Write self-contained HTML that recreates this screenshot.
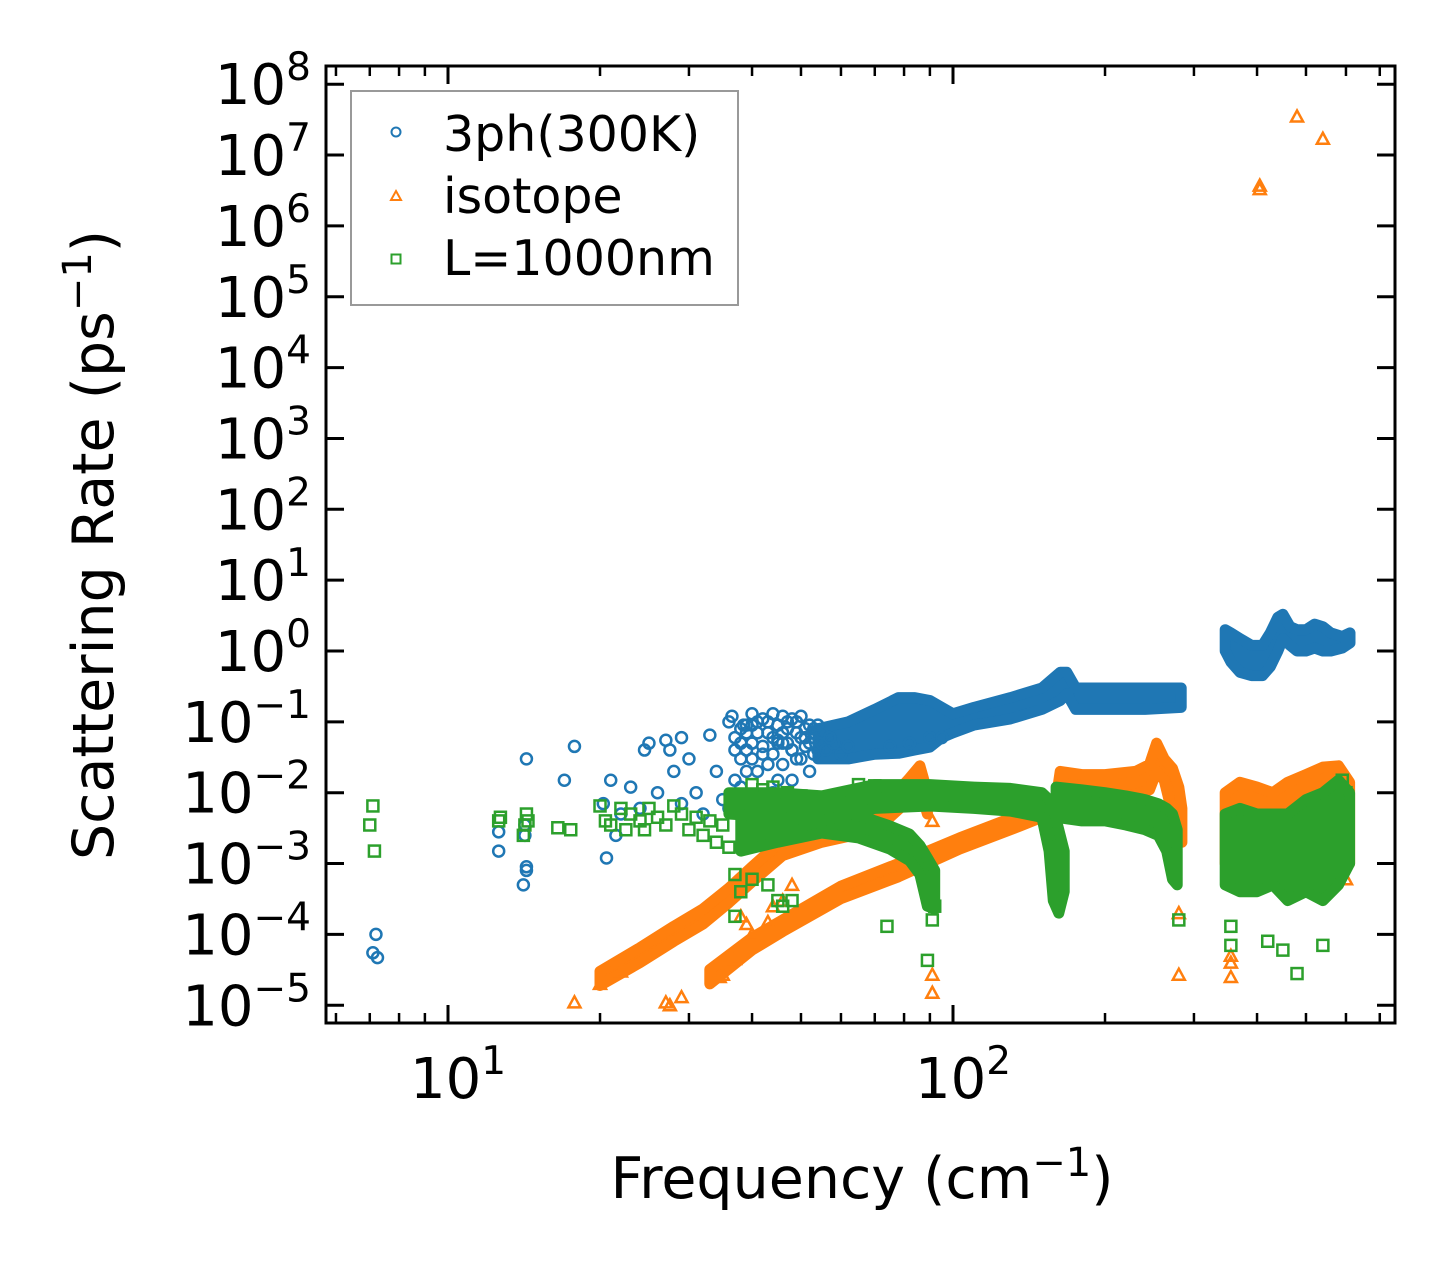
<!DOCTYPE html>
<html><head><meta charset="utf-8"><style>
html,body{margin:0;padding:0;background:#fff;}
svg{display:block;font-family:"DejaVu Sans","Liberation Sans",sans-serif;}
</style></head><body>
<svg id="chart" width="1455" height="1272" viewBox="0 0 1455 1272" xmlns="http://www.w3.org/2000/svg">
<rect width="1455" height="1272" fill="#fff"/>
<g id="marks"></g>
<g id="axes"></g>
<g id="legend">
<rect x="351" y="91" width="387" height="214" fill="#fff" fill-opacity="0.8" stroke="#999" stroke-width="2"/>
<circle cx="396" cy="132" r="4.5" fill="none" stroke="#1f77b4" stroke-width="2"/>
<text x="443" y="151" font-size="49">3ph(300K)</text>
<polygon points="396,191 401,200 391,200" fill="none" stroke="#ff7f0e" stroke-width="2"/>
<text x="443" y="213" font-size="49">isotope</text>
<rect x="391.5" y="254.5" width="9" height="9" fill="none" stroke="#2ca02c" stroke-width="2"/>
<text x="443" y="275" font-size="49">L=1000nm</text>
</g>
<text x="862" y="1198" font-size="57" text-anchor="middle">Frequency (cm<tspan dy="-22" font-size="40">−1</tspan><tspan dy="22">)</tspan></text>
<text transform="translate(113,545) rotate(-90)" font-size="57" text-anchor="middle">Scattering Rate (ps<tspan dy="-22" font-size="40">−1</tspan><tspan dy="22">)</tspan></text>
</svg>
<script>
// ---------- data ----------
const xTicks = [10, 100];
const xTickLabels = ["1", "2"];
const xMinorTicks = [6,7,8,9,20,30,40,50,60,70,80,90,200,300,400,500,600,700];
const yTickExps = [8,7,6,5,4,3,2,1,0,-1,-2,-3,-4,-5];

// 3ph (300K) scattered points
const phF = [7.1,7.2,7.25,12.6,12.6,14.3,14.2,14.3,14.3,14.1,14.2,17,17.8,20.3,20.6,21,21.5,22,23,24,24.5,25,26,27,27.5,28,29,29,30,31,32,33,34,35,36,37,38,38,39,40,40,41,42,42,43,44,44,45,46,46,47,48,48,49,50,50,51,52,52,53,54,55,36,37,39,41,43,45,47,49,44,40,42,46,48,51,53,38,39,45,56,58,60,62,75,82,90,95,37,38,40,41,43,44,46,47,49,50,52,53,55,57,42,45,48,51,54,39,36.5,38.5];
const phR = [5.5e-5,1e-4,4.7e-5,2.8e-3,1.5e-3,3e-2,3.5e-3,9e-4,8e-4,5e-4,2.5e-3,1.5e-2,4.5e-2,7e-3,1.2e-3,1.5e-2,2.5e-3,5e-3,1.2e-2,6e-3,4e-2,5e-2,1e-2,5.5e-2,4e-2,2e-2,6e-2,7e-3,3e-2,1e-2,5e-3,6.5e-2,2e-2,8e-3,0.1,0.06,0.03,0.012,0.09,0.13,0.05,0.02,0.11,0.008,0.07,0.13,0.035,0.09,0.025,0.12,0.05,0.11,0.015,0.07,0.12,0.03,0.045,0.09,0.02,0.06,0.04,0.05,0.006,0.015,0.04,0.07,0.025,0.05,0.08,0.03,0.01,0.03,0.045,0.07,0.04,0.08,0.035,0.08,0.02,0.015,0.04,0.05,0.035,0.045,0.045,0.05,0.06,0.06,0.04,0.05,0.09,0.1,0.1,0.06,0.05,0.1,0.1,0.06,0.05,0.08,0.07,0.06,0.035,0.055,0.04,0.06,0.09,0.07,0.12,0.09];
// 3ph dense bands (freq, low, high envelopes)
const phBand1F = [54,62,70,78,84,90,95,100,110,130,150,163,168,175,200,240,283];
const phBand1Lo = [0.03,0.03,0.035,0.036,0.04,0.044,0.06,0.07,0.09,0.11,0.15,0.2,0.25,0.15,0.15,0.15,0.16];
const phBand1Hi = [0.08,0.1,0.15,0.22,0.22,0.2,0.16,0.13,0.16,0.22,0.3,0.5,0.5,0.3,0.3,0.3,0.3];
const phBand2F = [346,355,370,390,410,425,440,450,465,480,500,520,540,560,590,611];
const phBand2Lo = [1.0,0.7,0.5,0.45,0.45,0.6,1.0,1.5,1.2,1.0,1.0,1.1,1.0,1.0,1.1,1.3];
const phBand2Hi = [2.0,1.8,1.5,1.2,1.2,1.8,3.0,3.3,2.2,2.0,2.0,2.4,2.2,1.8,1.6,1.8];

// isotope
const isoF = [17.8,20,21,22,27,27.5,29,34.5,35,37,38,39,40,43,44,46,48,91,91,91,280,280,355,355,355,405,405,480,540,600];
const isoR = [1.1e-5,2e-5,2.7e-5,3e-5,1.1e-5,1e-5,1.3e-5,2.5e-5,2.7e-5,4.5e-5,1.8e-4,1.4e-4,1e-4,1.5e-4,2.5e-4,3e-4,5e-4,4e-3,2.7e-5,1.5e-5,2e-4,2.7e-5,5e-5,2.5e-5,4e-5,3.7e6,3.3e6,3.5e7,1.7e7,6e-4];
const isoBand1F = [20,24,28,32,36,40,46,55,65,75,82,86,89];
const isoBand1Lo = [1.9e-5,4e-5,8e-5,1.4e-4,2.8e-4,5.5e-4,1.3e-3,2e-3,2.6e-3,4.5e-3,8e-3,1.2e-2,5e-3];
const isoBand1Hi = [3e-5,6.5e-5,1.3e-4,2.3e-4,4.5e-4,9e-4,2.2e-3,3.2e-3,4.2e-3,8e-3,1.6e-2,2.4e-2,1e-2];
const isoBand2F = [33,40,46,60,78,103,136,150,160,163,180,200,230,245,253,262,272,280,284];
const isoBand2Lo = [2e-5,6e-5,1.1e-4,3.2e-4,6.5e-4,1.6e-3,3.4e-3,4.5e-3,5e-3,5.5e-3,7e-3,8e-3,9.5e-3,1.1e-2,2e-2,1.5e-2,5e-3,2e-3,2e-3];
const isoBand2Hi = [3.2e-5,9e-5,1.6e-4,4.8e-4,1e-3,2.3e-3,4.9e-3,6.5e-3,8e-3,2e-2,1.8e-2,1.8e-2,2e-2,2.5e-2,5e-2,3e-2,2.2e-2,1.2e-2,6e-3];
const isoBand3F = [346,370,400,430,460,500,540,580,610];
const isoBand3Lo = [1e-3,1e-3,1e-3,1e-3,1e-3,1e-3,1e-3,1e-3,1e-3];
const isoBand3Hi = [1e-2,1.4e-2,1.2e-2,1e-2,1.4e-2,1.8e-2,2.3e-2,2.4e-2,1.4e-2];

// L=1000nm boundary
const bdF = [7.1,7.0,7.15,12.6,12.7,14.2,14.3,14.4,14.1,16.5,17.5,20,20.5,21,22,22.5,23,24,24.5,25,26,27,28,29,30,31,32,33,34,35,36,37,37,38,40,43,45,46,48,74,89,91,92,280,355,480,355,420,450,540,590,600,40,42,44,47,50,65,70];
const bdR = [6.5e-3,3.5e-3,1.5e-3,4e-3,4.5e-3,3.5e-3,5e-3,4e-3,2.5e-3,3.2e-3,3e-3,6.5e-3,4e-3,3.5e-3,6e-3,3e-3,5e-3,4e-3,3e-3,6e-3,4.5e-3,3.5e-3,6.5e-3,5e-3,3e-3,4.5e-3,2.5e-3,4e-3,2e-3,3.5e-3,1.7e-3,7e-4,1.8e-4,4e-4,6e-4,5e-4,3e-4,2.5e-4,3e-4,1.3e-4,4.3e-5,1.6e-4,2.5e-4,1.6e-4,7e-5,2.8e-5,1.3e-4,8e-5,6e-5,7e-5,1.5e-2,1e-2,1.3e-2,1.1e-2,1.2e-2,1e-2,9e-3,1.3e-2,1.25e-2];
const bdBand1F = [38,45,55,65,75,82,86,89,92];
const bdBand1Lo = [1.5e-3,2e-3,2.7e-3,2.3e-3,1.6e-3,1.1e-3,7e-4,2.5e-4,2.3e-4];
const bdBand1Hi = [7e-3,6.5e-3,5.7e-3,4.8e-3,3.4e-3,2.6e-3,1.8e-3,1.2e-3,8e-4];
const bdBand2F = [36,45,55,70,90,110,130,150,155,158,162,166];
const bdBand2Lo = [5e-3,4.5e-3,4e-3,6e-3,6.5e-3,6e-3,5.5e-3,4.5e-3,1.5e-3,3e-4,2e-4,4e-4];
const bdBand2Hi = [1e-2,1e-2,9e-3,1.3e-2,1.3e-2,1.2e-2,1.15e-2,1e-2,8e-3,6e-3,3e-3,1.5e-3];
const bdBand3F = [160,180,200,220,240,255,265,272,278];
const bdBand3Lo = [4.5e-3,4e-3,4e-3,3.5e-3,3e-3,2.5e-3,1.5e-3,6e-4,5e-4];
const bdBand3Hi = [1.2e-2,1.1e-2,1e-2,9e-3,8e-3,7e-3,6e-3,5e-3,3e-3];
const bdBand4F = [346,370,400,430,460,500,540,580,610];
const bdBand4Lo = [5e-4,4e-4,4e-4,5e-4,3e-4,4e-4,3e-4,5e-4,1e-3];
const bdBand4Hi = [5e-3,6e-3,5e-3,5e-3,5e-3,8e-3,1e-2,1.5e-2,1e-2];

// ---------- scales ----------
const PL = 326, PR = 1395, PT = 66, PB = 1023;
function xs(f){ return 448 + 505 * (Math.log10(f) - 1); }
function ys(r){ return 651 - 70.85 * Math.log10(r); }

const NS = "http://www.w3.org/2000/svg";
const marks = document.getElementById('marks');
const axes = document.getElementById('axes');
function mk(tag, parent){ const e = document.createElementNS(NS, tag); parent.appendChild(e); return e; }

function band(F, Lo, Hi, color, name){
  const pts = [];
  for (let i = 0; i < F.length; i++) pts.push(xs(F[i]).toFixed(1) + ',' + ys(Hi[i]).toFixed(1));
  for (let i = F.length - 1; i >= 0; i--) pts.push(xs(F[i]).toFixed(1) + ',' + ys(Lo[i]).toFixed(1));
  const p = mk('polygon', marks);
  p.setAttribute('points', pts.join(' '));
  p.setAttribute('fill', color);
  p.setAttribute('stroke', color);
  p.setAttribute('stroke-width', '11');
  p.setAttribute('stroke-linejoin', 'round');
  
  
}
function points(F, R, shape, color, name){
  const g = mk('g', marks);
  
  
  for (let i = 0; i < F.length; i++){
    const x = xs(F[i]), y = ys(R[i]);
    let e;
    if (shape === 'circle'){
      e = mk('circle', g); e.setAttribute('cx', x); e.setAttribute('cy', y); e.setAttribute('r', 5.5);
    } else if (shape === 'tri'){
      e = mk('polygon', g);
      e.setAttribute('points', x + ',' + (y - 6) + ' ' + (x + 6) + ',' + (y + 5) + ' ' + (x - 6) + ',' + (y + 5));
    } else {
      e = mk('rect', g); e.setAttribute('x', x - 5.5); e.setAttribute('y', y - 5.5); e.setAttribute('width', 11); e.setAttribute('height', 11);
    }
    e.setAttribute('fill', 'none');
    e.setAttribute('stroke', color);
    e.setAttribute('stroke-width', '2.5');
    
    
  }
}

const BLUE = '#1f77b4', ORANGE = '#ff7f0e', GREEN = '#2ca02c';
band(phBand1F, phBand1Lo, phBand1Hi, BLUE, '3ph-band-mid');
band(phBand2F, phBand2Lo, phBand2Hi, BLUE, '3ph-band-high');
points(phF, phR, 'circle', BLUE, '3ph-points');
band(isoBand1F, isoBand1Lo, isoBand1Hi, ORANGE, 'isotope-band-a');
band(isoBand2F, isoBand2Lo, isoBand2Hi, ORANGE, 'isotope-band-b');
band(isoBand3F, isoBand3Lo, isoBand3Hi, ORANGE, 'isotope-band-high');
points(isoF, isoR, 'tri', ORANGE, 'isotope-points');
band(bdBand1F, bdBand1Lo, bdBand1Hi, GREEN, 'boundary-band-1');
band(bdBand2F, bdBand2Lo, bdBand2Hi, GREEN, 'boundary-band-2');
band(bdBand3F, bdBand3Lo, bdBand3Hi, GREEN, 'boundary-band-3');
band(bdBand4F, bdBand4Lo, bdBand4Hi, GREEN, 'boundary-band-4');
points(bdF, bdR, 'sq', GREEN, 'boundary-points');

// ---------- axes ----------
function line(x1, y1, x2, y2, w, name){
  const l = mk('line', axes);
  l.setAttribute('x1', x1); l.setAttribute('y1', y1); l.setAttribute('x2', x2); l.setAttribute('y2', y2);
  l.setAttribute('stroke', '#000'); l.setAttribute('stroke-width', w);
  
  
}
xMinorTicks.forEach(v => { const x = xs(v); line(x, PB, x, PB - 10, 2.5, 'x-minor-tick'); line(x, PT, x, PT + 10, 2.5, 'x-minor-tick'); });
xTicks.forEach((v, i) => {
  const x = xs(v);
  line(x, PB, x, PB - 18, 3, 'x-major-tick'); line(x, PT, x, PT + 18, 3, 'x-major-tick');
  const t = mk('text', axes);
  t.setAttribute('x', x + 10); t.setAttribute('y', 1098); t.setAttribute('font-size', '56'); t.setAttribute('text-anchor', 'middle');
  
  
  t.innerHTML = '10<tspan dy="-24" font-size="39">' + xTickLabels[i] + '</tspan>';
});
yTickExps.forEach(e => {
  const y = ys(Math.pow(10, e));
  line(PL, y, PL + 18, y, 3, 'y-major-tick'); line(PR, y, PR - 18, y, 3, 'y-major-tick');
  const t = mk('text', axes);
  t.setAttribute('x', 311); t.setAttribute('y', y + 20); t.setAttribute('font-size', '56'); t.setAttribute('text-anchor', 'end');
  
  
  const s = e < 0 ? '−' + (-e) : '' + e;
  t.innerHTML = '10<tspan dy="-24" font-size="39">' + s + '</tspan>';
});
const fr = mk('rect', axes);
fr.setAttribute('x', PL); fr.setAttribute('y', PT); fr.setAttribute('width', PR - PL); fr.setAttribute('height', PB - PT);
fr.setAttribute('fill', 'none'); fr.setAttribute('stroke', '#000'); fr.setAttribute('stroke-width', '3');


</script>
</body></html>
